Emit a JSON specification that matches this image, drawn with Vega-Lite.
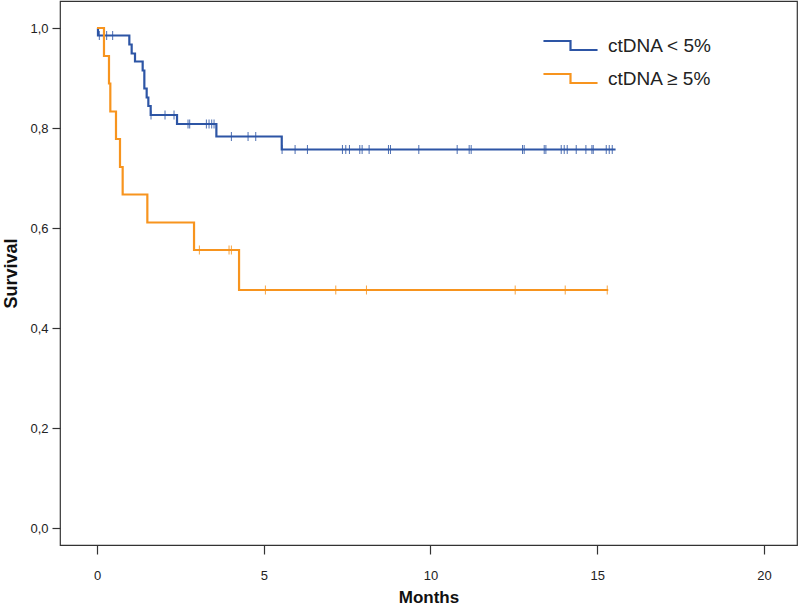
{
  "$schema": "https://vega.github.io/schema/vega-lite/v6.json",
  "autosize": "none",
  "width": 737,
  "height": 544,
  "padding": {"left": 60, "top": 1, "right": 3, "bottom": 62},
  "background": "white",
  "config": {
    "view": {"stroke": "#333333", "strokeWidth": 1.2},
    "font": "Liberation Sans",
    "axis": {
      "grid": false,
      "domain": false,
      "labelFont": "Liberation Sans",
      "labelFontSize": 13,
      "labelColor": "#222222",
      "tickColor": "#333333",
      "tickWidth": 1.2,
      "titleFont": "Liberation Sans",
      "titleFontSize": 18,
      "titleFontWeight": "bold",
      "titleColor": "#111111"
    }
  },
  "datasets": {
    "curve": [
      {"group": "ctDNA < 5%", "time": 0, "surv": 1.0},
      {"group": "ctDNA < 5%", "time": 0.03, "surv": 0.985},
      {"group": "ctDNA < 5%", "time": 0.97, "surv": 0.967},
      {"group": "ctDNA < 5%", "time": 1.04, "surv": 0.949},
      {"group": "ctDNA < 5%", "time": 1.14, "surv": 0.933},
      {"group": "ctDNA < 5%", "time": 1.37, "surv": 0.915},
      {"group": "ctDNA < 5%", "time": 1.42, "surv": 0.879},
      {"group": "ctDNA < 5%", "time": 1.49, "surv": 0.861},
      {"group": "ctDNA < 5%", "time": 1.54, "surv": 0.844},
      {"group": "ctDNA < 5%", "time": 1.61, "surv": 0.826},
      {"group": "ctDNA < 5%", "time": 2.40, "surv": 0.808},
      {"group": "ctDNA < 5%", "time": 3.58, "surv": 0.783},
      {"group": "ctDNA < 5%", "time": 5.54, "surv": 0.757},
      {"group": "ctDNA < 5%", "time": 15.55, "surv": 0.757},
      {"group": "ctDNA ≥ 5%", "time": 0, "surv": 1.0},
      {"group": "ctDNA ≥ 5%", "time": 0.21, "surv": 0.944},
      {"group": "ctDNA ≥ 5%", "time": 0.36, "surv": 0.889},
      {"group": "ctDNA ≥ 5%", "time": 0.40, "surv": 0.833},
      {"group": "ctDNA ≥ 5%", "time": 0.57, "surv": 0.778},
      {"group": "ctDNA ≥ 5%", "time": 0.69, "surv": 0.722},
      {"group": "ctDNA ≥ 5%", "time": 0.77, "surv": 0.667},
      {"group": "ctDNA ≥ 5%", "time": 1.51, "surv": 0.611},
      {"group": "ctDNA ≥ 5%", "time": 2.91, "surv": 0.556},
      {"group": "ctDNA ≥ 5%", "time": 4.26, "surv": 0.476},
      {"group": "ctDNA ≥ 5%", "time": 15.33, "surv": 0.476}
    ],
    "censor": [
      {"group": "ctDNA < 5%", "time": 0.07, "surv": 0.985},
      {"group": "ctDNA < 5%", "time": 0.29, "surv": 0.985},
      {"group": "ctDNA < 5%", "time": 0.47, "surv": 0.985},
      {"group": "ctDNA < 5%", "time": 1.62, "surv": 0.826},
      {"group": "ctDNA < 5%", "time": 2.04, "surv": 0.826},
      {"group": "ctDNA < 5%", "time": 2.31, "surv": 0.826},
      {"group": "ctDNA < 5%", "time": 2.73, "surv": 0.808},
      {"group": "ctDNA < 5%", "time": 2.78, "surv": 0.808},
      {"group": "ctDNA < 5%", "time": 3.28, "surv": 0.808},
      {"group": "ctDNA < 5%", "time": 3.36, "surv": 0.808},
      {"group": "ctDNA < 5%", "time": 3.44, "surv": 0.808},
      {"group": "ctDNA < 5%", "time": 3.51, "surv": 0.808},
      {"group": "ctDNA < 5%", "time": 4.03, "surv": 0.783},
      {"group": "ctDNA < 5%", "time": 4.53, "surv": 0.783},
      {"group": "ctDNA < 5%", "time": 4.76, "surv": 0.783},
      {"group": "ctDNA < 5%", "time": 5.55, "surv": 0.757},
      {"group": "ctDNA < 5%", "time": 5.94, "surv": 0.757},
      {"group": "ctDNA < 5%", "time": 6.31, "surv": 0.757},
      {"group": "ctDNA < 5%", "time": 7.36, "surv": 0.757},
      {"group": "ctDNA < 5%", "time": 7.46, "surv": 0.757},
      {"group": "ctDNA < 5%", "time": 7.57, "surv": 0.757},
      {"group": "ctDNA < 5%", "time": 7.88, "surv": 0.757},
      {"group": "ctDNA < 5%", "time": 7.95, "surv": 0.757},
      {"group": "ctDNA < 5%", "time": 8.16, "surv": 0.757},
      {"group": "ctDNA < 5%", "time": 8.74, "surv": 0.757},
      {"group": "ctDNA < 5%", "time": 8.80, "surv": 0.757},
      {"group": "ctDNA < 5%", "time": 9.65, "surv": 0.757},
      {"group": "ctDNA < 5%", "time": 10.80, "surv": 0.757},
      {"group": "ctDNA < 5%", "time": 11.16, "surv": 0.757},
      {"group": "ctDNA < 5%", "time": 11.22, "surv": 0.757},
      {"group": "ctDNA < 5%", "time": 12.76, "surv": 0.757},
      {"group": "ctDNA < 5%", "time": 12.81, "surv": 0.757},
      {"group": "ctDNA < 5%", "time": 13.41, "surv": 0.757},
      {"group": "ctDNA < 5%", "time": 13.46, "surv": 0.757},
      {"group": "ctDNA < 5%", "time": 13.92, "surv": 0.757},
      {"group": "ctDNA < 5%", "time": 14.01, "surv": 0.757},
      {"group": "ctDNA < 5%", "time": 14.10, "surv": 0.757},
      {"group": "ctDNA < 5%", "time": 14.37, "surv": 0.757},
      {"group": "ctDNA < 5%", "time": 14.66, "surv": 0.757},
      {"group": "ctDNA < 5%", "time": 14.84, "surv": 0.757},
      {"group": "ctDNA < 5%", "time": 14.88, "surv": 0.757},
      {"group": "ctDNA < 5%", "time": 15.27, "surv": 0.757},
      {"group": "ctDNA < 5%", "time": 15.36, "surv": 0.757},
      {"group": "ctDNA < 5%", "time": 15.45, "surv": 0.757},
      {"group": "ctDNA ≥ 5%", "time": 3.07, "surv": 0.556},
      {"group": "ctDNA ≥ 5%", "time": 3.96, "surv": 0.556},
      {"group": "ctDNA ≥ 5%", "time": 4.03, "surv": 0.556},
      {"group": "ctDNA ≥ 5%", "time": 5.05, "surv": 0.476},
      {"group": "ctDNA ≥ 5%", "time": 7.16, "surv": 0.476},
      {"group": "ctDNA ≥ 5%", "time": 8.08, "surv": 0.476},
      {"group": "ctDNA ≥ 5%", "time": 12.54, "surv": 0.476},
      {"group": "ctDNA ≥ 5%", "time": 14.04, "surv": 0.476},
      {"group": "ctDNA ≥ 5%", "time": 15.30, "surv": 0.476}
    ]
  },
  "layer": [
    {
      "data": {"name": "curve"},
      "mark": {"type": "line", "interpolate": "step-after", "strokeWidth": 2.2},
      "encoding": {
        "x": {
          "field": "time", "type": "quantitative",
          "scale": {"domain": [-1.109, 20.99], "nice": false, "zero": false},
          "axis": {"values": [0, 5, 10, 15, 20], "title": "Months", "tickSize": 9, "labelPadding": 15, "titlePadding": 7, "titleFontSize": 17}
        },
        "y": {
          "field": "surv", "type": "quantitative",
          "scale": {"domain": [-0.034, 1.054], "nice": false, "zero": false},
          "axis": {
            "values": [0, 0.2, 0.4, 0.6, 0.8, 1.0],
            "labelExpr": "replace(format(datum.value, '.1f'), '.', ',')",
            "title": "Survival", "tickSize": 8, "labelPadding": 4, "titlePadding": 9
          }
        },
        "color": {
          "field": "group", "type": "nominal",
          "scale": {"domain": ["ctDNA < 5%", "ctDNA ≥ 5%"], "range": ["#2d55a5", "#f7941e"]},
          "legend": {
            "title": null,
            "orient": "none",
            "legendX": 493,
            "legendY": 27,
            "padding": 0,
            "symbolType": "M-1.69,-0.28H0V0.28H1.69",
            "symbolSize": 1024,
            "symbolStrokeWidth": 2.2,
            "symbolFillColor": "transparent",
            "labelFont": "Liberation Sans",
            "labelFontSize": 19,
            "labelColor": "#222222",
            "labelOffset": 20,
            "rowPadding": 5
          }
        },
        "detail": {"field": "group"}
      }
    },
    {
      "data": {"name": "censor"},
      "mark": {"type": "tick", "orient": "vertical", "size": 9, "thickness": 1, "opacity": 0.85},
      "encoding": {
        "x": {"field": "time", "type": "quantitative"},
        "y": {"field": "surv", "type": "quantitative"},
        "color": {
          "field": "group", "type": "nominal",
          "scale": {"domain": ["ctDNA < 5%", "ctDNA ≥ 5%"], "range": ["#2d55a5", "#f7941e"]},
          "legend": null
        }
      }
    }
  ],
  "resolve": {"scale": {"color": "independent"}}
}
